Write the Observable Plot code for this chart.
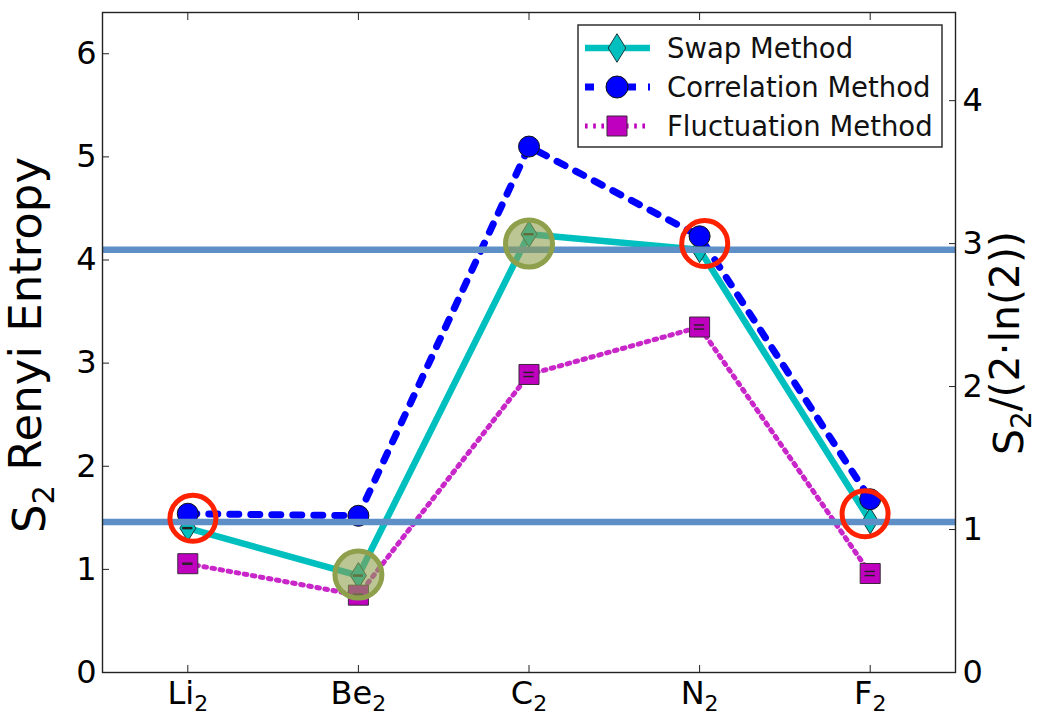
<!DOCTYPE html>
<html><head><meta charset="utf-8">
<script src="https://cdn.jsdelivr.net/npm/d3@7"></script>
<script src="https://cdn.jsdelivr.net/npm/@observablehq/plot@0.6"></script>
<style>body{margin:0;background:#fff;}</style>
</head><body><div id="chart"></div>
<script>
// ---- data ----
const molecules = ["Li", "Be", "C", "N", "F"];          // each shown with subscript 2
const swapValues = [1.40, 0.94, 4.25, 4.10, 1.47];
const swapErrors = [0.005, 0.005, 0.005, 0.005, 0.005];
const corrValues = [1.54, 1.52, 5.10, 4.23, 1.68];
const fluctValues = [1.055, 0.75, 2.89, 3.35, 0.96];
const fluctErrors = [0.005, 0.01, 0.02, 0.02, 0.02];
const refLineValues = [4.10, 1.46];
const redCircleX = [0.03, 3.03, 3.97];
const redCircleY = [1.495, 4.16, 1.54];
const greenCircleX = [1, 2];
const greenCircleY = [0.95, 4.16];
const leftTicks = [0, 1, 2, 3, 4, 5, 6];
const rightTicks = [0, 1, 2, 3, 4];
const seriesNames = ["Swap Method", "Correlation Method", "Fluctuation Method"];

// ---- build ----
const idx = d3.range(molecules.length);
const rows = (vals, errs) => idx.map(i => ({i, v: vals[i], e: errs ? errs[i] : 0}));
const swap = rows(swapValues, swapErrors);
const corr = rows(corrValues);
const fluct = rows(fluctValues, fluctErrors);
const reds = redCircleX.map((x, k) => ({x, y: redCircleY[k]}));
const greens = greenCircleX.map((x, k) => ({x, y: greenCircleY[k]}));
const LN = 2 * Math.LN2;

const thinDiamond = {draw(ctx, size) {
  const r = Math.sqrt(size / Math.PI);
  const h = r * 1.3, w = r * 0.8;
  ctx.moveTo(0, -h); ctx.lineTo(w, 0); ctx.lineTo(0, h); ctx.lineTo(-w, 0); ctx.closePath();
}};

const CYAN = "#00bfbf", BLUE = "#0000ff", MAG = "#bf00bf";
const DASH = "9,12", DOT = "2.6,5.6";

const caps = (data) => [
  Plot.ruleY(data, {y: d => d.v - d.e, x1: d => d.i - 0.03, x2: d => d.i + 0.03, stroke: "#222", strokeWidth: 1.4}),
  Plot.ruleY(data, {y: d => d.v + d.e, x1: d => d.i - 0.03, x2: d => d.i + 0.03, stroke: "#222", strokeWidth: 1.4})
];

const chart = Plot.plot({
  width: 1039, height: 720,
  marginLeft: 102, marginRight: 84, marginTop: 12, marginBottom: 48,
  style: {fontFamily: "DejaVu Sans", fontSize: "32px", background: "white", color: "#000", overflow: "visible"},
  x: {domain: [-0.5, 4.5]},
  y: {domain: [0, 6.4]},
  marks: [
    Plot.axisY({ticks: leftTicks, anchor: "left", tickSize: -7, tickPadding: 13, tickFormat: d => String(d), label: null, stroke: "#222"}),
    Plot.axisY({ticks: rightTicks.map(v => v * LN), anchor: "right", tickSize: -7, tickPadding: 14, tickFormat: d => String(Math.round(d / LN)), label: null, stroke: "#222"}),
    Plot.axisX({ticks: idx, anchor: "bottom", tickSize: -7, tickPadding: 16, tickFormat: i => molecules[i] + "₂", label: null, stroke: "#222"}),
    Plot.axisX({ticks: idx, anchor: "top", tickSize: -7, tickPadding: 0, tickFormat: () => "", label: null, stroke: "#222"}),
    // swap
    Plot.line(swap, {x: "i", y: "v", stroke: CYAN, strokeWidth: 6.5, strokeLinejoin: "round"}),
    Plot.dot(swap, {x: "i", y: "v", symbol: thinDiamond, r: 10, fill: CYAN, stroke: "#1b3b3b", strokeWidth: 1}),
    ...caps(swap),
    // correlation
    Plot.line(corr, {x: "i", y: "v", stroke: BLUE, strokeWidth: 7, strokeDasharray: DASH}),
    Plot.dot(corr, {x: "i", y: "v", symbol: "circle", r: 10.5, fill: BLUE, stroke: "#111", strokeWidth: 1}),
    // fluctuation
    Plot.line(fluct, {x: "i", y: "v", stroke: MAG, strokeWidth: 5, strokeOpacity: 0.85, strokeDasharray: DOT}),
    Plot.dot(fluct, {x: "i", y: "v", symbol: "square", r: 11.3, fill: MAG, stroke: "#3a2a3a", strokeWidth: 1}),
    ...caps(fluct),
    // reference lines
    Plot.ruleY(refLineValues, {stroke: "#5e8fc7", strokeWidth: 6.5}),
    // highlight circles
    Plot.dot(greens, {x: "x", y: "y", r: 23.5, fill: "#8ea04c", fillOpacity: 0.6, stroke: "#8ea04c", strokeWidth: 5}),
    Plot.dot(reds, {x: "x", y: "y", r: 23, fill: "none", stroke: "#ff2200", strokeWidth: 5}),
    Plot.frame({stroke: "#222", strokeWidth: 1.4})
  ]
});
document.getElementById("chart").appendChild(chart);

// ---- subscripts in x tick labels ----
const svg = d3.select(chart);
svg.selectAll("text").each(function() {
  const t = this.textContent;
  if (t.endsWith("₂")) {
    const el = d3.select(this);
    el.text("");
    el.append("tspan").text(t.slice(0, -1));
    el.append("tspan").attr("dy", "0.3em").attr("font-size", "22px").text("2");
  }
});

// ---- axis titles ----
function title(x, y, size, parts) {
  const t = svg.append("text").attr("transform", `translate(${x},${y}) rotate(-90)`)
    .attr("text-anchor", "middle").attr("font-size", size + "px").attr("fill", "#000");
  let shifted = false;
  for (const [s, isSub] of parts) {
    const ts = t.append("tspan").text(s);
    if (isSub && !shifted) { ts.attr("dy", "0.3em").attr("font-size", (size * 0.68) + "px"); shifted = true; }
    else if (!isSub && shifted) { ts.attr("dy", "-0.3em"); shifted = false; }
  }
}
title(45, 345, 45, [["S", false], ["2", true], [" Renyi Entropy", false]]);
title(1023, 343, 41, [["S", false], ["2", true], ["/(2·ln(2))", false]]);

// ---- legend ----
const lg = svg.append("g");
lg.append("rect").attr("x", 578).attr("y", 25).attr("width", 364).attr("height", 122)
  .attr("fill", "white").attr("stroke", "#222").attr("stroke-width", 1.4);
const legendRows = [
  {name: seriesNames[0], color: CYAN, w: 6.5, dash: null, sym: thinDiamond, r: 11, stroke: "#1b3b3b"},
  {name: seriesNames[1], color: BLUE, w: 7, dash: DASH, sym: d3.symbolCircle, r: 11, stroke: "#111"},
  {name: seriesNames[2], color: MAG, w: 5, dash: DOT, sym: d3.symbolSquare, r: 11.3, stroke: "#3a2a3a"}
];
const rowY = [48, 87, 126];
legendRows.forEach((d, k) => {
  const y = rowY[k];
  const ln = lg.append("line").attr("x1", 585).attr("x2", 650).attr("y1", y).attr("y2", y)
    .attr("stroke", d.color).attr("stroke-width", d.w);
  if (d.dash) ln.attr("stroke-dasharray", d.dash);
  lg.append("path").attr("transform", `translate(617,${y})`)
    .attr("d", d3.symbol(d.sym, Math.PI * d.r * d.r)())
    .attr("fill", d.color).attr("stroke", d.stroke).attr("stroke-width", 1);
  lg.append("text").attr("x", 667).attr("y", y).attr("dy", "0.36em").attr("text-anchor", "start")
    .attr("font-size", "27.5px").attr("fill", "#111").text(d.name);
});
</script>
</body></html>
